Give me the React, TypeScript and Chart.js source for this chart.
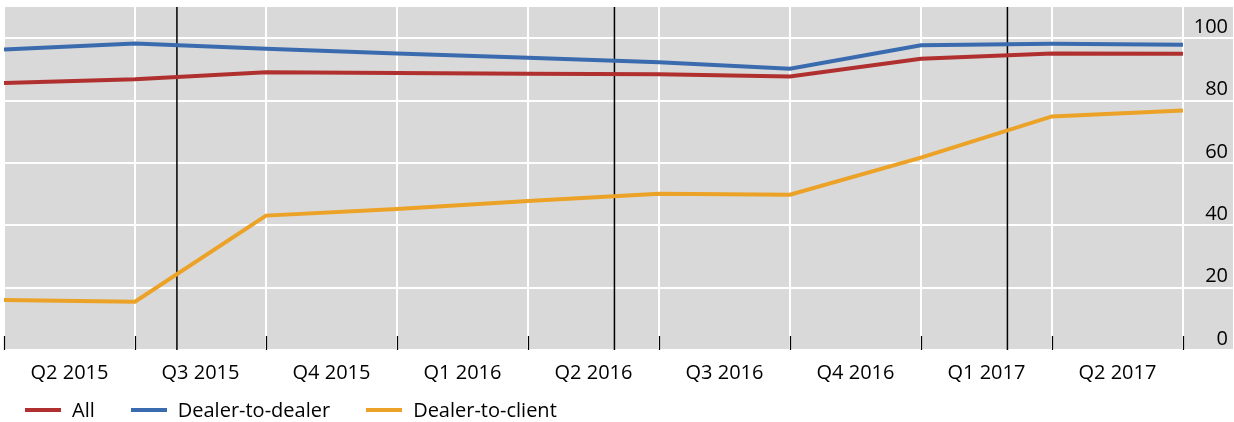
import React, { useEffect, useRef } from "react";
import { Chart, registerables } from "chart.js";

Chart.register(...registerables);

// Quarter labels sit between the quarter-boundary points
const quarterLabels = ["Q2 2015", "Q3 2015", "Q4 2015", "Q1 2016", "Q2 2016", "Q3 2016", "Q4 2016", "Q1 2017", "Q2 2017"];
// Observation positions (quarter boundaries, in quarters from start)
const pointPositions = [0, 1, 2, 3, 4, 5, 6, 7, 8, 9];
const allValues = [85.6, 86.8, 89.1, 88.8, 88.6, 88.4, 87.7, 93.4, 95.1, 95.0];
const dealerToDealerValues = [96.4, 98.3, 96.6, 95.1, 93.7, 92.3, 90.2, 97.7, 98.2, 97.9];
const dealerToClientValues = [16.0, 15.5, 43.1, 45.2, 47.8, 50.1, 49.8, 61.7, 74.9, 76.8];
// Vertical black event markers (in quarters from start)
const eventPositions = [1.32, 4.66, 7.66];
const seriesNames = ["All", "Dealer-to-dealer", "Dealer-to-client"];
const seriesColors = ["#B0302F", "#3A6BAF", "#EBA226"];
const yMin = 0;
const yMax = 110;
const yStep = 20;
const xMax = 9.382;

const FONT = "'Open Sans', 'Noto Sans', sans-serif";

const decorPlugin = {
  id: "decor",
  beforeDraw(chart: any) {
    const { ctx, chartArea } = chart;
    ctx.save();
    ctx.fillStyle = "#D9D9D9";
    ctx.fillRect(chartArea.left, chartArea.top, chartArea.right - chartArea.left, chartArea.bottom - chartArea.top);
    ctx.restore();
  },
  beforeDatasetsDraw(chart: any) {
    const { ctx, chartArea } = chart;
    const xs = chart.scales.x;
    ctx.save();
    ctx.strokeStyle = "#000";
    ctx.lineWidth = 1.5;
    eventPositions.forEach((v) => {
      const px = xs.getPixelForValue(v);
      ctx.beginPath();
      ctx.moveTo(px, chartArea.top);
      ctx.lineTo(px, chartArea.bottom);
      ctx.stroke();
    });
    ctx.lineWidth = 1.2;
    ctx.strokeStyle = "#000";
    pointPositions.forEach((v) => {
      const px = Math.round(xs.getPixelForValue(v)) + 0.5;
      ctx.beginPath();
      ctx.moveTo(px, chartArea.bottom - 14);
      ctx.lineTo(px, chartArea.bottom);
      ctx.stroke();
    });
    ctx.restore();
  },
};

export default function App() {
  const canvasRef = useRef<HTMLCanvasElement | null>(null);

  useEffect(() => {
    if (!canvasRef.current) return;
    const mk = (vals: number[]) => pointPositions.map((x, i) => ({ x, y: vals[i] }));
    const seriesData = [allValues, dealerToDealerValues, dealerToClientValues];
    const chart = new Chart(canvasRef.current, {
      type: "line",
      data: {
        datasets: seriesData.map((vals, i) => ({
          label: seriesNames[i],
          data: mk(vals),
          borderColor: seriesColors[i],
          backgroundColor: seriesColors[i],
          borderWidth: 4,
          pointRadius: 0,
          tension: 0,
          fill: false,
          xAxisID: "x",
          yAxisID: "y",
        })),
      },
      options: {
        animation: false,
        responsive: false,
        maintainAspectRatio: false,
        layout: { padding: { left: 4, right: 1, top: 7, bottom: 26 } },
        plugins: {
          legend: { display: false },
          tooltip: { enabled: false },
        },
        scales: {
          x: {
            type: "linear",
            position: "bottom",
            min: 0,
            max: xMax,
            grid: { color: "#FFFFFF", lineWidth: 2, drawTicks: false },
            border: { display: false },
            ticks: { display: false },
            afterBuildTicks: (s: any) => {
              s.ticks = pointPositions.map((v) => ({ value: v }));
            },
          },
          xl: {
            type: "linear",
            position: "bottom",
            min: 0,
            max: xMax,
            grid: { display: false, drawTicks: false },
            border: { display: false },
            ticks: {
              padding: 11,
              autoSkip: false,
              maxRotation: 0,
              color: "#000",
              font: { family: FONT, size: 20 },
              callback: (_v: any, i: number) => quarterLabels[i],
            },
            afterBuildTicks: (s: any) => {
              s.ticks = quarterLabels.map((_, i) => ({ value: i + 0.5 }));
            },
            afterFit: (s: any) => {
              s.paddingLeft = 0;
              s.paddingRight = 0;
            },
          },
          y: {
            position: "right",
            min: yMin,
            max: yMax,
            grid: { color: "#FFFFFF", lineWidth: 2, drawTicks: false },
            border: { display: false },
            ticks: {
              stepSize: yStep,
              includeBounds: false,
              mirror: true,
              padding: -5,
              labelOffset: -11,
              color: "#000",
              font: { family: FONT, size: 20 },
            },
            afterFit: (s: any) => {
              s.paddingTop = 0;
              s.paddingBottom = 0;
            },
          },
        },
      } as any,
      plugins: [decorPlugin],
    });
    return () => chart.destroy();
  }, []);

  return (
    <div style={{ position: "absolute", left: 0, top: 0, width: 1234, height: 422, background: "#fff" }}>
      <canvas ref={canvasRef} width={1234} height={422} style={{ display: "block", width: 1234, height: 422 }} />
      <div
        style={{
          position: "absolute",
          left: 25,
          top: 398,
          display: "flex",
          alignItems: "center",
          fontFamily: FONT,
          fontSize: 20,
          lineHeight: "24px",
          color: "#000",
        }}
      >
        {seriesNames.map((n, i) => (
          <div key={n} style={{ display: "flex", alignItems: "center", marginRight: 36 }}>
            <span style={{ display: "inline-block", width: 36, height: 4, background: seriesColors[i], marginRight: 11 }} />
            <span>{n}</span>
          </div>
        ))}
      </div>
    </div>
  );
}
